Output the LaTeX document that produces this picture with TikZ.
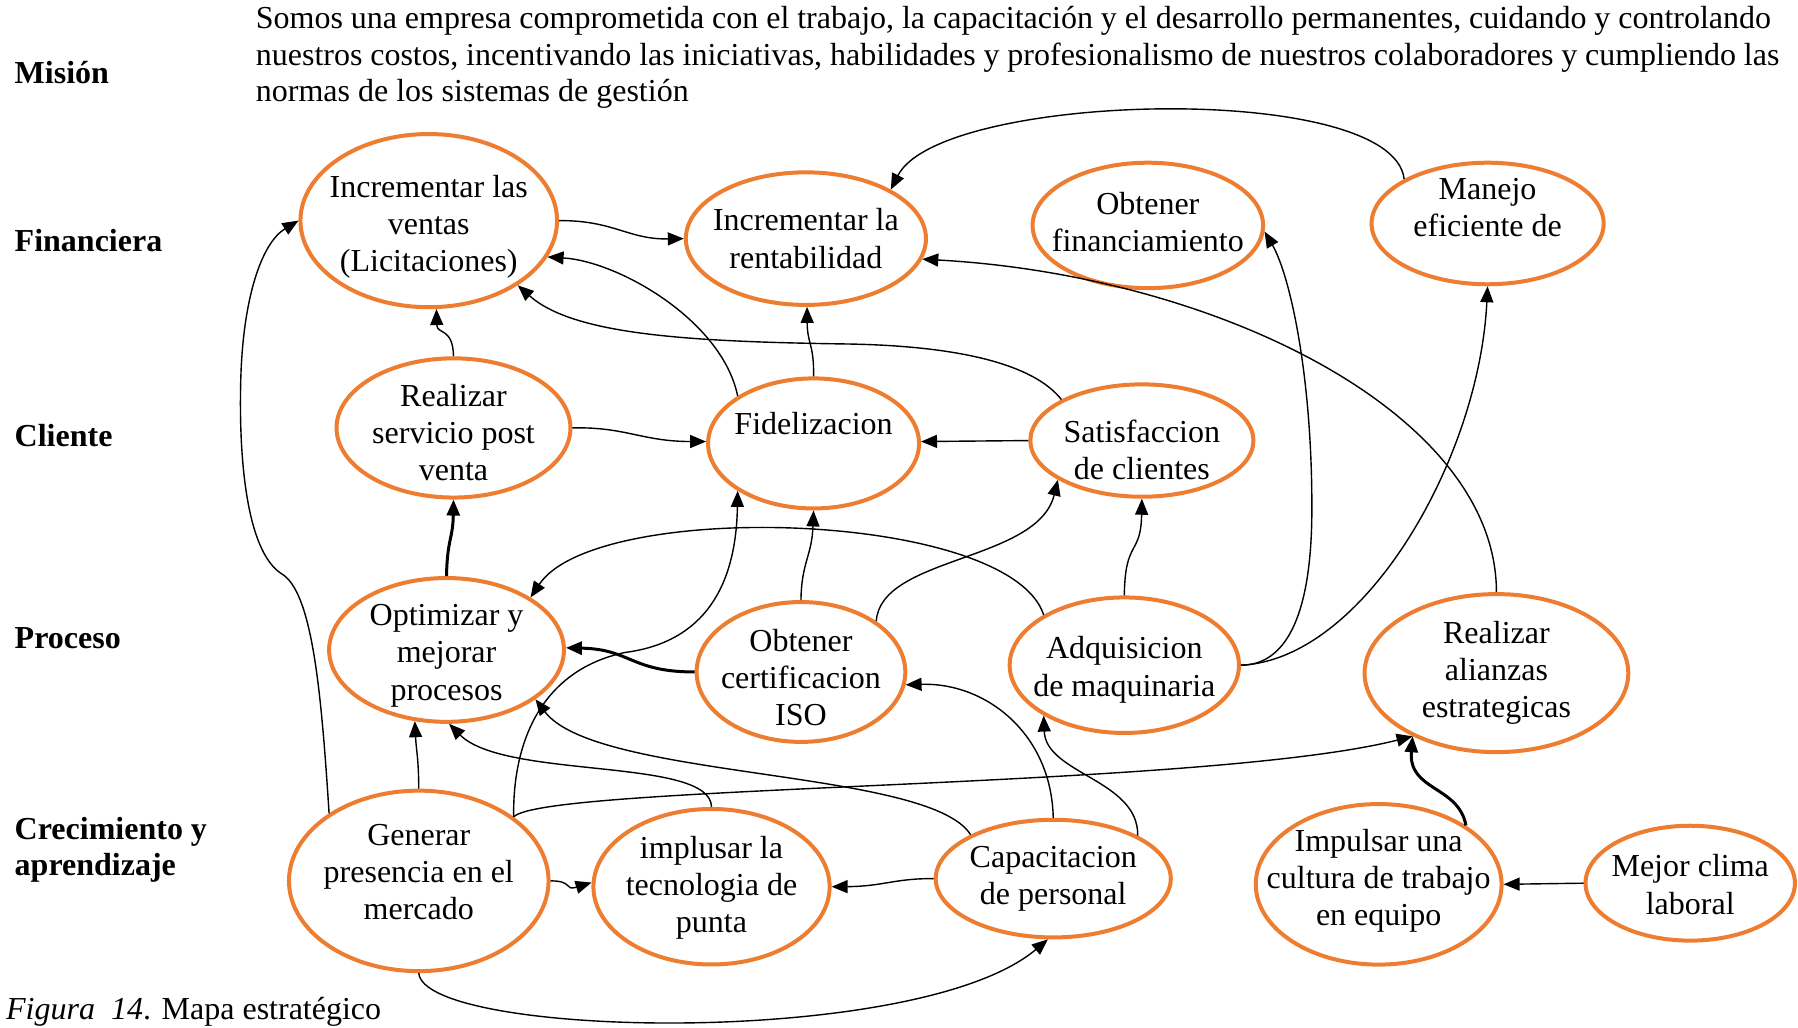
\documentclass[tikz,border=0pt]{standalone}
\usepackage{fontspec}
\setmainfont{Liberation Serif}
\usetikzlibrary{shapes.geometric,arrows.meta}
\definecolor{orng}{RGB}{237,125,49}
\begin{document}
\begin{tikzpicture}[x=0.5733pt,y=-0.5733pt,
  txt/.style={font=\fontsize{16}{18.6}\selectfont, align=center, text=black, inner sep=0pt},
  side/.style={font=\fontsize{16}{18.6}\selectfont\bfseries, inner sep=0pt, anchor=base west},
  goal/.style 2 args={ellipse, draw=orng, line width=2pt, fill=white,
    minimum width=#1*0.5733pt, minimum height=#2*0.5733pt, inner sep=0pt},
  conn/.style={line width=0.7pt, -{Triangle[length=8pt,width=6.5pt]}},
  connb/.style={line width=1.5pt, -{Triangle[length=8pt,width=6.5pt]}}]

\fill[white] (0,0) rectangle (1568,896);
\useasboundingbox (0,0) rectangle (1568,896);

% perspective labels
\node[side] (mision) at (12.5,72.6) {Misión};
\node[side] (financ) at (12.5,219.5) {Financiera};
\node[side] (client) at (12.5,389.5) {Cliente};
\node[side] (proces) at (12.5,565.4) {Proceso};
\node[side] (crec1) at (12.5,732.5) {Crecimiento y};
\node[side] (crec2) at (12.5,763.5) {aprendizaje};

% mission statement
\node[txt, anchor=base west] (mis1) at (222.8,24.7)
  {\makebox[757.5pt][s]{Somos una empresa comprometida con el trabajo, la capacitación y el desarrollo permanentes, cuidando y controlando}};
\node[txt, anchor=base west] (mis2) at (222.8,56.7)
  {\makebox[761.7pt][s]{nuestros costos, incentivando las iniciativas, habilidades y profesionalismo de nuestros colaboradores y cumpliendo las}};
\node[txt, anchor=base west] (mis3) at (222.8,88.7) {normas de los sistemas de gestión};

% caption
\node[anchor=base west, inner sep=0pt, font=\fontsize{16}{18.6}\selectfont] (caption) at (5,889.5)
  {\textit{Figura\ \ 14}. Mapa estratégico};

% objectives
\node[goal={223.8}{151}, label={[txt,yshift=-3.2pt]center:{Incrementar las\\ventas\\(Licitaciones)}}] (ventas) at (373.9,192.4) {};
\node[goal={209.4}{115.6}, label={[txt]center:{Incrementar la\\rentabilidad}}] (rent) at (702.8,208.1) {};
\node[goal={201}{109.4}, label={[txt,yshift=1.5pt]center:{Obtener\\financiamiento}}] (fin) at (1001,196.6) {};
\node[goal={202.4}{106}, label={[txt,yshift=8pt]center:{Manejo\\eficiente de}}] (manejo) at (1297.3,194.9) {};

\node[goal={204}{121.4}, label={[txt,yshift=-2.3pt]center:{Realizar\\servicio post\\venta}}] (post) at (395.5,373.2) {};
\node[goal={184}{113.4}, label={[txt,yshift=10pt]center:{Fidelizacion}}] (fidel) at (709.5,386.7) {};
\node[goal={194.6}{98}, label={[txt,yshift=-4.7pt]center:{Satisfaccion\\de clientes}}] (satis) at (995.8,384.2) {};

\node[goal={204.8}{125.4}, label={[txt,yshift=-2.9pt]center:{Optimizar y\\mejorar\\procesos}}] (optim) at (389.4,566.8) {};
\node[goal={182}{122}, label={[txt,yshift=-2.9pt]center:{Obtener\\certificacion\\ISO}}] (iso) at (698.5,586) {};
\node[goal={200}{118.2}, label={[txt,yshift=-2.3pt]center:{Adquisicion\\de maquinaria}}] (adq) at (980.5,580.1) {};
\node[goal={230}{137.8}, label={[txt]center:{Realizar\\alianzas\\estrategicas}}] (alianz) at (1305,587) {};

\node[goal={226.4}{157.4}, label={[txt,yshift=4.4pt]center:{Generar\\presencia en el\\mercado}}] (gener) at (365.2,768.2) {};
\node[goal={206}{135.6}, label={[txt,yshift=-0.6pt]center:{implusar la\\tecnologia de\\punta}}] (tecno) at (620.5,773.3) {};
\node[goal={205}{102.6}, label={[txt]center:{Capacitacion\\de personal}}] (capac) at (918.5,766.2) {};
\node[goal={214.4}{140}, label={[txt,yshift=1.8pt]center:{Impulsar una\\cultura de trabajo\\en equipo}}] (cultura) at (1202.3,771.2) {};
\node[goal={182.6}{100.2}, label={[txt,yshift=-0.7pt]center:{Mejor clima\\laboral}}] (clima) at (1474,770.2) {};

% cause-effect links
\draw[conn] (ventas.0) .. controls (535,192) and (548,209) .. (rent.180);
\draw[conn] (manejo.152) .. controls (1215,70) and (820,80) .. (rent.30);
\draw[conn] (fidel.148) .. controls (630,280) and (540,228) .. (ventas.-17);
\draw[conn] (satis.153) .. controls (905,322) and (850,302) .. (740,300)
            .. controls (600,298) and (500,292) .. (ventas.-36);
\draw[conn] (post.90) .. controls (395,285) and (381,292) .. (ventas.-85);
\draw[conn] (fidel.90) .. controls (710,300) and (704,300) .. (rent.-89);
\draw[conn] (alianz.90) .. controls (1305,360) and (1060,240) .. (rent.-10);
\draw[conn] (adq.0) .. controls (1120,580) and (1143,540) .. (1144,450)
            .. controls (1145,330) and (1125,240) .. (fin.-3);
\draw[conn] (adq.0) .. controls (1190,575) and (1290,400) .. (manejo.-90);

\draw[conn] (post.0) .. controls (545,372) and (560,385) .. (fidel.179);
\draw[conn] (satis.180) -- (fidel.1);
\draw[connb] (optim.90) .. controls (390,470) and (395,470) .. (post.-90);
\draw[conn] (iso.90) .. controls (699,490) and (708,485) .. (fidel.-90);
\draw[conn] (gener.34) .. controls (447,650) and (470,585) .. (545,569)
            .. controls (615,560) and (642,510) .. (fidel.212);
\draw[connb] (iso.180) .. controls (550,586) and (550,566) .. (optim.1);
\draw[conn] (adq.148) .. controls (880,445) and (520,435) .. (optim.32);
\draw[conn] (iso.34) .. controls (768,485) and (905,490) .. (satis.205);
\draw[conn] (adq.90) .. controls (981,470) and (995,485) .. (satis.-90);

\draw[conn] (gener.90) .. controls (365,660) and (363,655) .. (optim.246);
\draw[conn] (tecno.90) .. controls (620,660) and (440,680) .. (optim.-88);
\draw[conn] (capac.152) .. controls (810,670) and (520,680) .. (optim.-29);
\draw[conn] (capac.90) .. controls (917,640) and (860,595) .. (iso.-7);
\draw[conn] (capac.27) .. controls (993,680) and (912,675) .. (adq.212);
\draw[conn] (gener.34) .. controls (475,684) and (1050,688) .. (alianz.217);
\draw[conn] (gener.143) .. controls (280,600) and (272,515) .. (245,500)
            .. controls (215,480) and (208,400) .. (210,330)
            .. controls (212,260) and (228,212) .. (ventas.180);

\draw[conn] (gener.0) .. controls (500,768) and (492,777) .. (tecno.178);
\draw[conn] (capac.180) .. controls (780,766) and (770,773) .. (tecno.0);
\draw[conn] (gener.-90) .. controls (370,905) and (800,915) .. (capac.-95);
\draw[connb] (cultura.34) .. controls (1272,685) and (1228,690) .. (alianz.217);
\draw[conn] (clima.180) -- (cultura.0);

\end{tikzpicture}
\end{document}
